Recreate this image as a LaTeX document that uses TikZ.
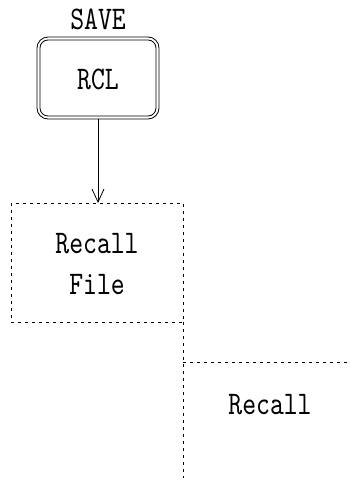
\documentclass[tikz,border=0pt]{standalone}
\usepackage{fontspec}
\newfontfamily\monofont[FakeStretch=0.8, Extension=.otf]{lmmono10-regular}
\usetikzlibrary{arrows.meta}
\tikzset{
  lbl/.style={font=\monofont\fontsize{33}{38}\selectfont, inner sep=0pt},
  dsh/.style={draw, line width=0.8pt, dash pattern=on 3pt off 4pt},
}
\begin{document}
\begin{tikzpicture}[x=1pt,y=-1pt]
\useasboundingbox (0,0) rectangle (350,481);
% RCL key
\draw[line width=0.8pt, rounded corners=11pt] (37,37) rectangle (159,119);
\draw[line width=0.8pt, rounded corners=8pt] (40,40) rectangle (156,116);
\node[lbl] (save) at (98,19) {SAVE};
\node[lbl] (rcl) at (98,79) {RCL};
\coordinate (keybot) at (98,119);
% recall file box
\draw[dsh] (11,203) rectangle (183,322);
\coordinate (boxtop) at (98,203);
\node[lbl] (rf1) at (97,244) {Recall};
\node[lbl] (rf2) at (97,285) {File};
\draw[line width=0.8pt, -{Straight Barb[length=13pt,width=12pt]}] (keybot) -- (boxtop);
% right area
\coordinate (v1) at (183,322);
\coordinate (v2) at (183,478);
\draw[dsh] (v1) -- (v2);
\coordinate (h1) at (183,362);
\coordinate (h2) at (350,362);
\draw[dsh] (h1) -- (h2);
\node[lbl] (rc) at (270,405) {Recall};
\end{tikzpicture}
\end{document}
